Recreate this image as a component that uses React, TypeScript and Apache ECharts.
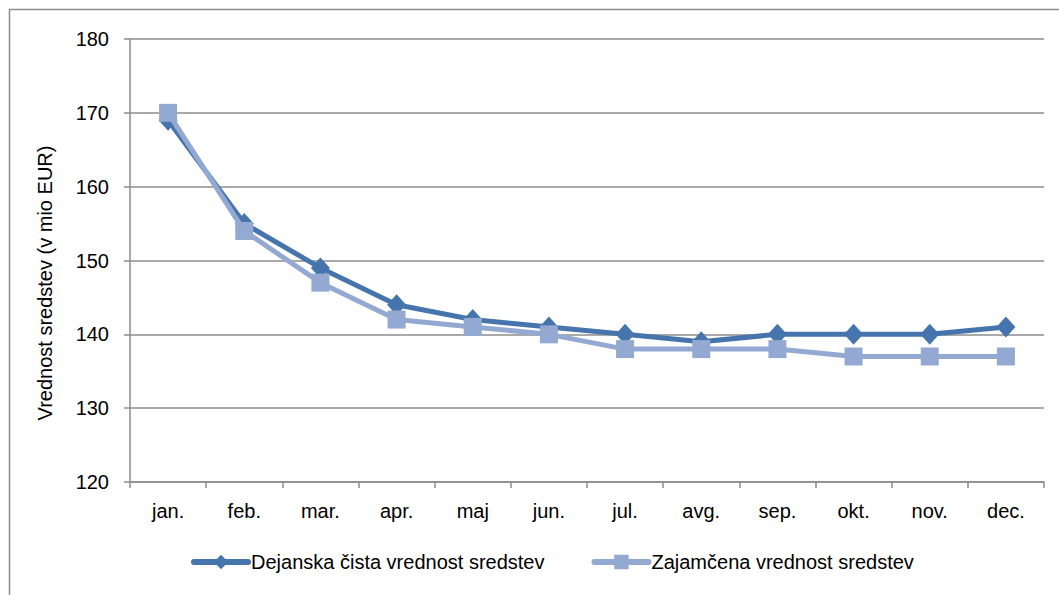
import React, { useEffect, useRef } from "react";
import * as echarts from "echarts";

const months = ["jan.", "feb.", "mar.", "apr.", "maj", "jun.", "jul.", "avg.", "sep.", "okt.", "nov.", "dec."];
const dejanska = [169, 155, 149, 144, 142, 141, 140, 139, 140, 140, 140, 141];
const zajamcena = [170, 154, 147, 142, 141, 140, 138, 138, 138, 137, 137, 137];
const seriesNames = ["Dejanska čista vrednost sredstev", "Zajamčena vrednost sredstev"];
const yTitle = "Vrednost sredstev (v mio EUR)";

const FONT = '"Liberation Sans", Arial, sans-serif';
const FS = 20;
const DARK = "#4674AC";
const LIGHT = "#93A9D1";
const GRID = "#8C8C8C";

export default function App() {
  const ref = useRef<HTMLDivElement>(null);
  useEffect(() => {
    document.body.style.margin = "0";
    const chart = echarts.init(ref.current!, null, { renderer: "svg" });
    chart.setOption({
      animation: false,
      backgroundColor: "#ffffff",
      grid: { left: 130, right: 15, top: 39, bottom: 113, containLabel: false },
      graphic: [
        {
          type: "rect",
          shape: { x: 9.5, y: 9.5, width: 1100, height: 700 },
          style: { fill: "none", stroke: GRID, lineWidth: 1.5 },
          silent: true,
        },
        {
          type: "text",
          x: 45,
          y: 283,
          rotation: Math.PI / 2,
          style: {
            text: yTitle,
            fontFamily: FONT,
            fontSize: FS,
            fill: "#000",
            align: "center",
            verticalAlign: "middle",
          },
        },
      ],
      legend: {
        bottom: 18,
        left: 186,
        itemWidth: 54,
        itemHeight: 18,
        itemGap: 47,
        lineStyle: { width: 6, cap: "round" },
        textStyle: { fontFamily: FONT, fontSize: FS, color: "#000", padding: [0, 0, 0, -2] },
        data: seriesNames,
      },
      xAxis: {
        type: "category",
        data: months,
        boundaryGap: true,
        axisLine: { lineStyle: { color: GRID, width: 1.5 } },
        axisTick: { show: true, length: 6, lineStyle: { color: GRID, width: 1.5 } },
        axisLabel: { fontFamily: FONT, fontSize: FS, color: "#000", margin: 19 },
        splitLine: { show: false },
      },
      yAxis: {
        type: "value",
        min: 120,
        max: 180,
        interval: 10,
        axisLine: { show: true, lineStyle: { color: GRID, width: 1.5 } },
        axisTick: { show: true, length: 6, lineStyle: { color: GRID, width: 1.5 } },
        axisLabel: { fontFamily: FONT, fontSize: FS, color: "#000", margin: 21 },
        splitLine: { show: true, lineStyle: { color: GRID, width: 1.5 } },
      },
      series: [
        {
          name: seriesNames[0],
          type: "line",
          data: dejanska,
          symbol: "diamond",
          symbolSize: [19, 21],
          lineStyle: { color: DARK, width: 5 },
          itemStyle: { color: DARK },
          z: 2,
        },
        {
          name: seriesNames[1],
          type: "line",
          data: zajamcena,
          symbol: "rect",
          symbolSize: 18,
          lineStyle: { color: LIGHT, width: 5 },
          itemStyle: { color: LIGHT },
          z: 3,
        },
      ],
    });
    return () => chart.dispose();
  }, []);
  return <div ref={ref} style={{ width: 1059, height: 595 }} />;
}
